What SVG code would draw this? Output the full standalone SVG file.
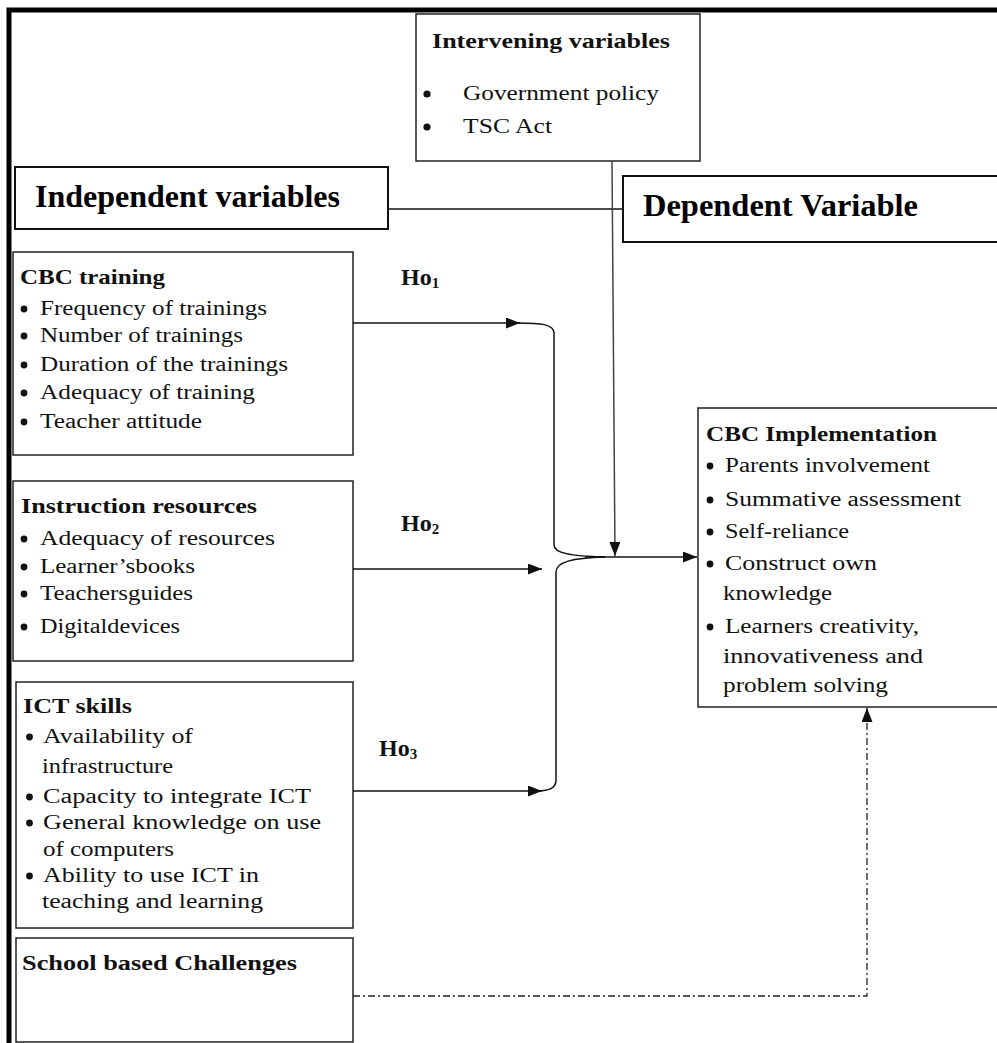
<svg xmlns="http://www.w3.org/2000/svg" width="997" height="1043" viewBox="0 0 997 1043">
<style>
.bx{fill:#fff;stroke:#222;stroke-width:1.5}
.bx2{fill:#fff;stroke:#111;stroke-width:2}
.t{font-family:"Liberation Serif","Times New Roman",serif;font-size:20px;fill:#111}
.h{font-family:"Liberation Serif","Times New Roman",serif;font-size:22px;font-weight:bold;fill:#111}
.big{font-family:"Liberation Serif","Times New Roman",serif;font-size:32px;font-weight:bold;fill:#000}
.ho{font-family:"Liberation Serif","Times New Roman",serif;font-size:24px;font-weight:bold;fill:#111}
.sub{font-size:15px}
.b{fill:#111}
.c{fill:none;stroke:#111;stroke-width:1.5}
.cg{fill:none;stroke:#444;stroke-width:1.5}
.dd{fill:none;stroke:#222;stroke-width:1.3;stroke-dasharray:7 3 2 3}
</style>
<defs>
<marker id="ah" markerUnits="userSpaceOnUse" markerWidth="15" markerHeight="12" refX="14" refY="5.5" orient="auto">
<path d="M0,0 L14,5.5 L0,11 z" fill="#111"/>
</marker>
</defs>
<path d="M9,1043 V10 H997" fill="none" stroke="#000" stroke-width="5"/>

<g id="intervening">
<rect class="bx" x="416" y="14" width="284" height="147"/>
<text class="h" x="432" y="48" textLength="238" lengthAdjust="spacingAndGlyphs">Intervening variables</text>
<circle class="b" cx="427" cy="94" r="3.6"/>
<text class="t" x="463" y="100" textLength="196" lengthAdjust="spacingAndGlyphs">Government policy</text>
<circle class="b" cx="427" cy="127" r="3.6"/>
<text class="t" x="463" y="133" textLength="89" lengthAdjust="spacingAndGlyphs">TSC Act</text>
</g>

<g id="independent">
<rect class="bx2" x="15" y="167" width="373" height="62"/>
<text class="big" x="35" y="207" textLength="305" lengthAdjust="spacingAndGlyphs">Independent variables</text>
</g>

<g id="dependent">
<rect class="bx2" x="623" y="176" width="380" height="66"/>
<text class="big" x="643" y="216" textLength="275" lengthAdjust="spacingAndGlyphs">Dependent Variable</text>
</g>

<g id="cbc-training">
<rect class="bx" x="13" y="252" width="340" height="203"/>
<text class="h" x="20" y="284" textLength="145" lengthAdjust="spacingAndGlyphs">CBC training</text>
<circle class="b" cx="24" cy="309" r="3.4"/>
<text class="t" x="40" y="315" textLength="227" lengthAdjust="spacingAndGlyphs">Frequency of trainings</text>
<circle class="b" cx="24" cy="336" r="3.4"/>
<text class="t" x="40" y="342" textLength="203" lengthAdjust="spacingAndGlyphs">Number of trainings</text>
<circle class="b" cx="24" cy="365" r="3.4"/>
<text class="t" x="40" y="371" textLength="248" lengthAdjust="spacingAndGlyphs">Duration of the trainings</text>
<circle class="b" cx="24" cy="393" r="3.4"/>
<text class="t" x="40" y="399" textLength="215" lengthAdjust="spacingAndGlyphs">Adequacy of training</text>
<circle class="b" cx="24" cy="422" r="3.4"/>
<text class="t" x="40" y="428" textLength="162" lengthAdjust="spacingAndGlyphs">Teacher attitude</text>
</g>

<g id="instruction-resources">
<rect class="bx" x="13" y="481" width="340" height="180"/>
<text class="h" x="21" y="513" textLength="236" lengthAdjust="spacingAndGlyphs">Instruction resources</text>
<circle class="b" cx="24" cy="539" r="3.4"/>
<text class="t" x="40" y="545" textLength="235" lengthAdjust="spacingAndGlyphs">Adequacy of resources</text>
<circle class="b" cx="24" cy="567" r="3.4"/>
<text class="t" x="40" y="573" textLength="155" lengthAdjust="spacingAndGlyphs">Learner’sbooks</text>
<circle class="b" cx="24" cy="594" r="3.4"/>
<text class="t" x="40" y="600" textLength="153" lengthAdjust="spacingAndGlyphs">Teachersguides</text>
<circle class="b" cx="24" cy="627" r="3.4"/>
<text class="t" x="40" y="633" textLength="140" lengthAdjust="spacingAndGlyphs">Digitaldevices</text>
</g>

<g id="ict-skills">
<rect class="bx" x="16" y="682" width="337" height="246"/>
<text class="h" x="23" y="713" textLength="109" lengthAdjust="spacingAndGlyphs">ICT skills</text>
<circle class="b" cx="29.5" cy="737" r="3.4"/>
<text class="t" x="43" y="743" textLength="150" lengthAdjust="spacingAndGlyphs">Availability of</text>
<text class="t" x="42" y="773" textLength="131" lengthAdjust="spacingAndGlyphs">infrastructure</text>
<circle class="b" cx="29.5" cy="797" r="3.4"/>
<text class="t" x="43" y="803" textLength="268" lengthAdjust="spacingAndGlyphs">Capacity to integrate ICT</text>
<circle class="b" cx="29.5" cy="823" r="3.4"/>
<text class="t" x="43" y="829" textLength="278" lengthAdjust="spacingAndGlyphs">General knowledge on use</text>
<text class="t" x="43" y="856" textLength="131" lengthAdjust="spacingAndGlyphs">of computers</text>
<circle class="b" cx="29.5" cy="876" r="3.4"/>
<text class="t" x="43" y="882" textLength="216" lengthAdjust="spacingAndGlyphs">Ability to use ICT in</text>
<text class="t" x="42" y="908" textLength="221" lengthAdjust="spacingAndGlyphs">teaching and learning</text>
</g>

<g id="school-challenges">
<rect class="bx" x="16" y="938" width="337" height="104"/>
<text class="h" x="22" y="970" textLength="275" lengthAdjust="spacingAndGlyphs">School based Challenges</text>
</g>

<g id="cbc-implementation">
<rect class="bx" x="698" y="408" width="310" height="299"/>
<text class="h" x="706" y="441" textLength="231" lengthAdjust="spacingAndGlyphs">CBC Implementation</text>
<circle class="b" cx="710" cy="466" r="3.4"/>
<text class="t" x="725" y="472" textLength="205" lengthAdjust="spacingAndGlyphs">Parents involvement</text>
<circle class="b" cx="710" cy="500" r="3.4"/>
<text class="t" x="725" y="506" textLength="236" lengthAdjust="spacingAndGlyphs">Summative assessment</text>
<circle class="b" cx="710" cy="532" r="3.4"/>
<text class="t" x="725" y="538" textLength="124" lengthAdjust="spacingAndGlyphs">Self-reliance</text>
<circle class="b" cx="710" cy="564" r="3.4"/>
<text class="t" x="725" y="570" textLength="152" lengthAdjust="spacingAndGlyphs">Construct own</text>
<text class="t" x="723" y="600" textLength="109" lengthAdjust="spacingAndGlyphs">knowledge</text>
<circle class="b" cx="710" cy="627" r="3.4"/>
<text class="t" x="725" y="633" textLength="194" lengthAdjust="spacingAndGlyphs">Learners creativity,</text>
<text class="t" x="723" y="663" textLength="200" lengthAdjust="spacingAndGlyphs">innovativeness and</text>
<text class="t" x="723" y="692" textLength="165" lengthAdjust="spacingAndGlyphs">problem solving</text>
</g>

<g id="labels">
<text class="ho" x="401" y="285">Ho<tspan class="sub" dy="3">1</tspan></text>
<text class="ho" x="401" y="531">Ho<tspan class="sub" dy="3">2</tspan></text>
<text class="ho" x="379" y="756">Ho<tspan class="sub" dy="3">3</tspan></text>
</g>

<g id="connectors">
<path class="c" d="M388,209 H623"/>
<path class="cg" d="M612,161 L615,556" marker-end="url(#ah)"/>
<path class="c" d="M353,323 H520" marker-end="url(#ah)"/>
<path class="c" d="M518,323 C540,323 554,324 554,333 V545 C554,553 570,556 605,557"/>
<path class="c" d="M353,569 H542" marker-end="url(#ah)"/>
<path class="c" d="M353,791 H542" marker-end="url(#ah)"/>
<path class="c" d="M540,791 C550,790 556,788 556,780 V572 C556,562 572,558 605,557"/>
<path class="c" d="M585,557 H697" marker-end="url(#ah)"/>
<path class="dd" d="M353,996 H867 V708" marker-end="url(#ah)"/>
</g>
</svg>
